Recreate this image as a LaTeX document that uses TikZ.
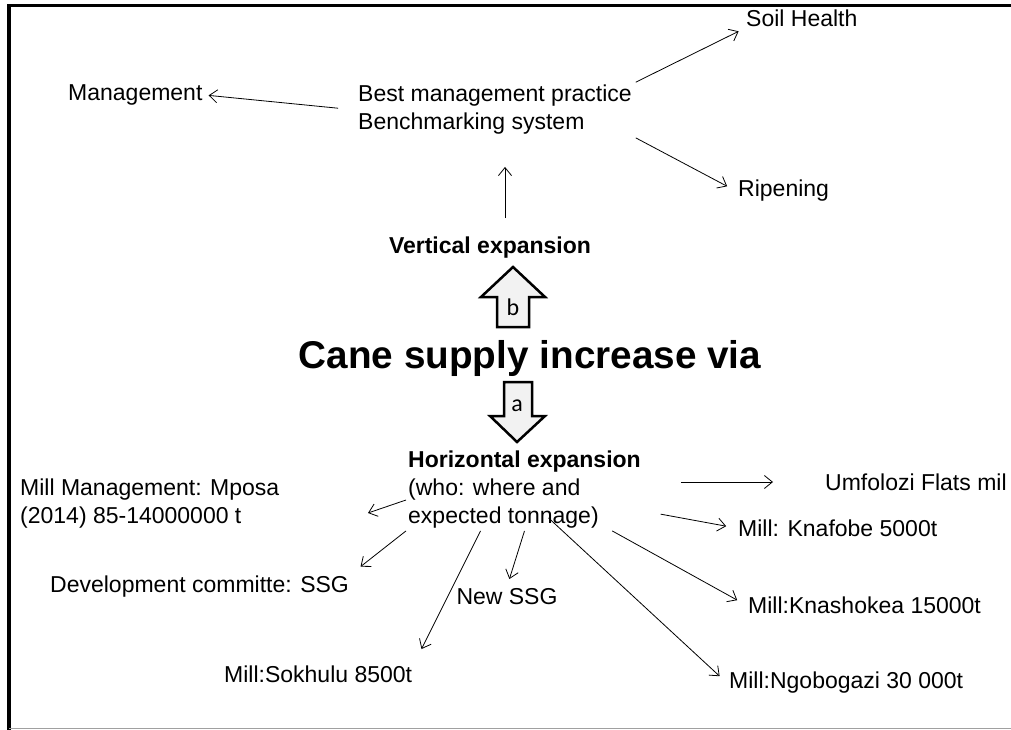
\documentclass[tikz,border=0pt]{standalone}
\usepackage{fontspec}
\setmainfont{Liberation Sans}
\newfontfamily\letterfont{Carlito}
\definecolor{arrowfill}{RGB}{242, 242, 242}
\definecolor{rulegray}{RGB}{160, 160, 160}
\usetikzlibrary{arrows.meta, positioning, calc}

\tikzset{
  txt/.style={font=\fontsize{23}{28}\selectfont, inner sep=2pt, anchor=west, align=left},
  arr/.style={-{Straight Barb[length=8pt, width=13pt]}, line width=0.8pt},
  blockarrow/.style={draw, line width=2.5pt, fill=arrowfill, line join=miter},
  letter/.style={font=\letterfont\fontsize{24}{24}\selectfont, inner sep=0pt}
}

\begin{document}
\begin{tikzpicture}[x=1pt, y=-1pt]
  \useasboundingbox (0,0) rectangle (1011,730);
  % frame
  \draw[line width=3.5pt] (9.2,730) -- (9.2,5.5) -- (1011,5.5);
  \draw[rulegray, line width=1.5pt] (9.2,728.5) -- (1011,728.5);

  % vertical branch
  \node[txt] (best) at (356,110) {Best management practice\\Benchmarking system};
  \node[txt] (mgmt) at (66,95) {Management};
  \node[txt] (soil) at (744,18) {Soil Health};
  \node[txt] (ripe) at (736,191) {Ripening};
  \node[txt, anchor=center, font=\bfseries\fontsize{23}{28}\selectfont] (vert) at (490,248) {Vertical expansion};

  \draw[arr, shorten <=18pt, shorten >=4pt] (best.west) -- (mgmt.east);
  \draw[arr, shorten <=2pt, shorten >=6pt] (best.north east) -- (soil.south west);
  \draw[arr, shorten <=2pt, shorten >=10pt] (best.south east) -- (ripe.west);
  \draw[arr, shorten <=17pt, shorten >=30pt] ([xshift=15pt]vert.north) -- ([xshift=15pt]vert.north |- best.south);

  % centre
  \node[font=\bfseries\fontsize{38.7}{42}\selectfont, inner sep=0pt, anchor=base] (cane) at (530,368) {Cane supply increase via};
  \draw[blockarrow] (497,327) -- (497,297) -- (481,297) -- (513,267) -- (545,297) -- (529,297) -- (529,327) -- cycle;
  \node[letter] (b) at (513,307) {b};
  \draw[blockarrow] (504,382) -- (532,382) -- (532,416) -- (545,416) -- (517,442) -- (490,416) -- (504,416) -- cycle;
  \node[letter] (a) at (517,406) {a};

  % horizontal branch
  \node[txt] (hor) at (406,490) {\textbf{Horizontal expansion}\\(who: where and\\expected tonnage)};
  \node[txt] (umf) at (823,482) {Umfolozi Flats mil};
  \node[txt] (knaf) at (736,528) {Mill: Knafobe 5000t};
  \node[txt] (knas) at (746,605) {Mill:Knashokea 15000t};
  \node[txt] (ngo) at (727,683) {Mill:Ngobogazi 30 000t};
  \node[txt, anchor=center] (newssg) at (507,597) {New SSG};
  \node[txt] (sok) at (222,674) {Mill:Sokhulu 8500t};
  \node[txt] (dev) at (48,587) {Development committe: SSG};
  \node[txt] (mill) at (18,504) {Mill Management: Mposa\\(2014) 85-14000000 t};
  \coordinate (milltip) at (368,513);

  \draw[arr, shorten <=38pt, shorten >=50pt] (hor.east |- umf.west) -- (umf.west);
  \draw[arr, shorten <=18pt, shorten >=10pt] (hor.-10) -- (knaf.west);
  \draw[arr, shorten >=10pt] (hor.-25) -- (knas.west);
  \draw[arr, shorten >=10pt] ([xshift=24pt, yshift=13pt]hor.south) -- (ngo.west);
  \draw[arr, shorten >=8pt] (hor.south) -- (newssg.north);
  \draw[arr, shorten >=16pt] ([xshift=-44pt]hor.south) -- (sok.north east);
  \draw[arr, shorten >=12pt] (hor.south west) -- (dev.north east);
  \draw[arr] ([yshift=-10pt]hor.west) -- (milltip);
\end{tikzpicture}
\end{document}
